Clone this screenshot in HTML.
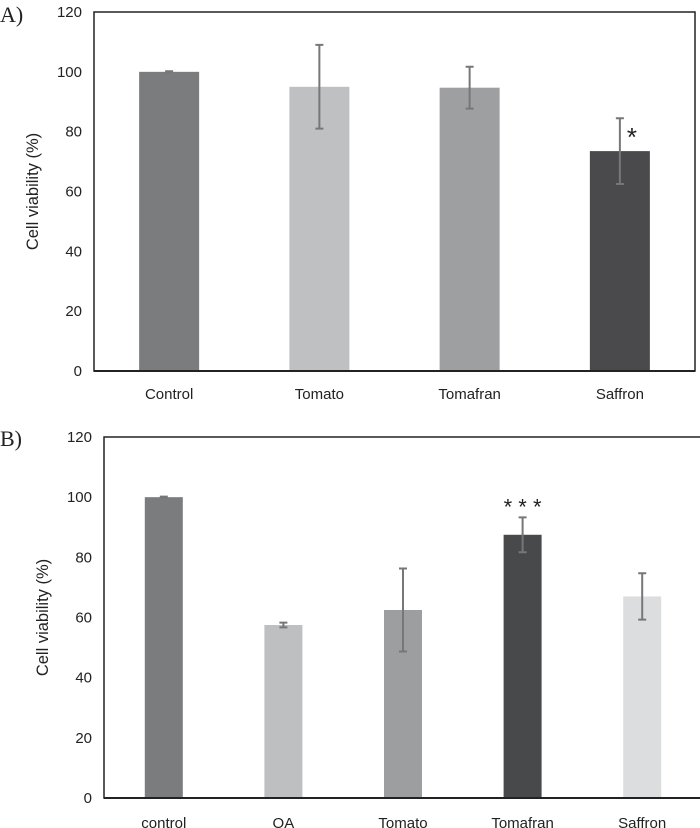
<!DOCTYPE html>
<html><head><meta charset="utf-8"><style>
body{margin:0;background:#fff;width:700px;height:828px;overflow:hidden}
svg{display:block}
text{font-family:"Liberation Sans",sans-serif;fill:#222}
text.serif{font-family:"Liberation Serif",serif}
</style></head><body>
<svg id="c" width="700" height="828"></svg>
<script>
const catsA=["Control","Tomato","Tomafran","Saffron"];
const valsA=[100,95,94.7,73.5];
const errA=[0.2,14,7,11];
const colA=["#7b7c7e","#bfc0c2","#9e9fa1","#4a4a4c"];
const starsA=["","","","*"];
const catsB=["control","OA","Tomato","Tomafran","Saffron"];
const valsB=[100,57.5,62.5,87.5,67];
const errB=[0.2,0.8,13.8,5.8,7.7];
const colB=["#7b7c7e","#bebfc1","#9d9ea0","#48494b","#dcddde"];
const starsB=["","","","* * *",""];
const ticks=[0,20,40,60,80,100,120];
const NS="http://www.w3.org/2000/svg";
const svg=document.getElementById('c');
function mk(t,a,p){const e=document.createElementNS(NS,t);for(const k in a)e.setAttribute(k,a[k]);(p||svg).appendChild(e);return e;}
function panel(o){
  const g=mk('g',{});
  
  
  const y=v=>o.bottom-(v/120)*(o.bottom-o.top);
  const step=(o.right-o.left)/o.cats.length;
  const x=i=>o.left+step*(i+0.5);
  const lab=mk('text',{x:o.labX,y:o.labY,'class':'serif','font-size':22},g);lab.textContent=o.label;
  
  
  const fr=mk('rect',{x:o.left,y:o.top,width:o.right-o.left,height:o.bottom-o.top,fill:'none',stroke:'#222','stroke-width':1.5},g);
  
  
  ticks.forEach(t=>{const e=mk('text',{x:o.left-12,y:y(t)+5,'text-anchor':'end','font-size':15},g);e.textContent=t;
    
    });
  const yt=mk('text',{transform:`translate(${o.titleX},${(o.top+o.bottom)/2}) rotate(-90)`,'text-anchor':'middle','font-size':16.5},g);
  yt.textContent="Cell viability (%)";
  
  
  o.cats.forEach((c,i)=>{
    const cx=x(i),w=o.bw;
    const b=mk('rect',{x:cx-w/2,y:y(o.vals[i]),width:w,height:o.bottom-y(o.vals[i]),fill:o.cols[i]},g);
    
    
    const hi=y(o.vals[i]+o.err[i]),lo=y(o.vals[i]-o.err[i]);
    const eb=mk('path',{d:`M${cx},${hi}V${lo}M${cx-4},${hi}H${cx+4}M${cx-4},${lo}H${cx+4}`,stroke:'#777','stroke-width':2,fill:'none'},g);
    
    
    if(o.stars[i]){const s=mk('text',{x:cx+o.starDx,y:hi+o.starDy,'text-anchor':'middle','font-size':o.starSize},g);s.textContent=o.stars[i];
      
      }
    const t=mk('text',{x:cx,y:o.catY,'text-anchor':'middle','font-size':15},g);t.textContent=c;
    
    
  });
  mk('line',{x1:o.left,x2:o.right,y1:o.bottom,y2:o.bottom,stroke:'#222','stroke-width':2},g);
}
panel({name:'panel-a',label:'A)',labX:0,labY:22,left:94,right:695,top:12,bottom:371,cats:catsA,vals:valsA,err:errA,cols:colA,stars:starsA,bw:60,titleX:38,catY:399,starDx:12,starDy:28,starSize:26});
panel({name:'panel-b',label:'B)',labX:0,labY:446,left:104,right:702,top:437,bottom:798,cats:catsB,vals:valsB,err:errB,cols:colB,stars:starsB,bw:38,titleX:48,catY:828,starDx:0,starDy:-3,starSize:22});
</script>
</body></html>
